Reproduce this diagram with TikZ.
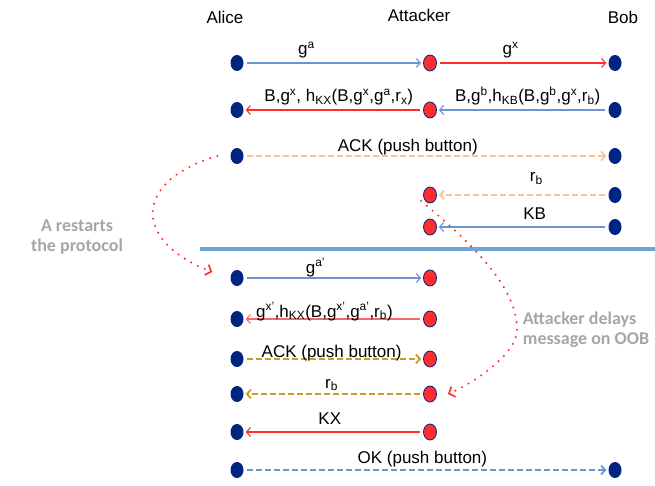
\documentclass[tikz,border=0pt]{standalone}
\usepackage{fontspec}
\setmainfont{Liberation Sans}
\newfontfamily\notefont{Carlito}
\usepackage{tikz}
\usetikzlibrary{arrows.meta,shapes.geometric}

\definecolor{dotnavy}{RGB}{0,36,130}
\definecolor{atkred}{RGB}{255,45,45}
\definecolor{softred}{RGB}{245,105,105}
\definecolor{msgblue}{RGB}{105,150,210}
\definecolor{sepblue}{RGB}{110,165,215}
\definecolor{paleorange}{RGB}{247,195,160}
\definecolor{mustard}{RGB}{200,158,40}
\definecolor{notegray}{RGB}{166,166,166}

\begin{document}
\begin{tikzpicture}[x=1pt,y=1pt,
    font=\fontsize{17}{20}\selectfont,
    host/.style={ellipse,fill=dotnavy,minimum width=13pt,minimum height=16pt,inner sep=0pt},
    atk/.style={ellipse,draw=dotnavy,line width=0.8pt,fill=atkred,minimum width=13pt,minimum height=16pt,inner sep=0pt},
    msg/.style={line width=1.1pt,-{Straight Barb[length=4pt,width=9pt]},shorten <=3pt,shorten >=2pt},
    oob/.style={msg,line width=1.8pt,dash pattern=on 6pt off 3pt},
    restart/.style={atkred,line width=2.3pt,line cap=round,dash pattern=on 0pt off 7.5pt,
        -{Straight Barb[length=5pt,width=11pt,line width=1.6pt]}},
    lbl/.style={anchor=base,text=black,yshift=#1},
    lbl/.default=7pt,
    note/.style={text=notegray,font=\notefont\bfseries\fontsize{18}{20}\selectfont}]
    \useasboundingbox (0,0) rectangle (655,485);

    % Parties
    \node (alice) at (225,468) {Alice};
    \node (attacker) at (419,470) {Attacker};
    \node (bob) at (623,468) {Bob};

    % First run
    \node [host] (a1) at (237,422) {};
    \node [atk]  (x1) at (430,422) {};
    \node [host] (b1) at (615,422) {};

    \node [host] (a2) at (237,375) {};
    \node [atk]  (x2) at (430,375) {};
    \node [host] (b2) at (615,375) {};

    \node [host] (a3) at (237,329) {};
    \node [host] (b3) at (615,329) {};

    \node [atk]  (x4) at (430,290) {};
    \node [host] (b4) at (615,290) {};

    \node [atk]  (x5) at (430,258) {};
    \node [host] (b5) at (615,258) {};

    % Separator
    \draw [sepblue,line width=4pt] (200,236) -- (655,236);

    % Second run
    \node [host] (a6) at (237,207) {};
    \node [atk]  (x6) at (430,207) {};

    \node [host] (a7) at (237,166) {};
    \node [atk]  (x7) at (430,166) {};

    \node [host] (a8) at (237,126) {};
    \node [atk]  (x8) at (430,126) {};

    \node [host] (a9) at (237,91) {};
    \node [atk]  (x9) at (430,91) {};

    \node [host] (a10) at (237,53) {};
    \node [atk]  (x10) at (430,53) {};

    \node [host] (a11) at (237,15) {};
    \node [host] (b11) at (615,15) {};

    % Messages, first run
    \draw [msg,msgblue] (a1) -- node [lbl=8pt,pos=0.35] {g\textsuperscript{a}} (x1);
    \draw [msg,atkred] (x1) -- node [lbl=8pt,pos=0.43] {g\textsuperscript{x}} (b1);
    \draw [msg,atkred] (x2) -- node [lbl=8pt,pos=0.47] {B,g\textsuperscript{x}, h\textsubscript{KX}(B,g\textsuperscript{x},g\textsuperscript{a},r\textsubscript{x})} (a2);
    \draw [msg,msgblue] (b2) -- node [lbl=8pt,pos=0.47] {B,g\textsuperscript{b},h\textsubscript{KB}(B,g\textsuperscript{b},g\textsuperscript{x},r\textsubscript{b})} (x2);
    \draw [oob,paleorange] (a3) -- node [lbl=4pt,pos=0.45] {ACK (push button)} (b3);
    \draw [oob,paleorange] (b4) -- node [lbl=13pt,pos=0.42] {r\textsubscript{b}} (x4);
    \draw [msg,msgblue] (b5) -- node [lbl,pos=0.43] {KB} (x5);

    % Messages, second run
    \draw [msg,msgblue] (a6) -- node [lbl=5pt,pos=0.40] {g\textsuperscript{a'}} (x6);
    \draw [msg,softred] (x7) -- node [lbl=2pt,pos=0.55] {g\textsuperscript{x'},h\textsubscript{KX}(B,g\textsuperscript{x'},g\textsuperscript{a'},r\textsubscript{b})} (a7);
    \draw [oob,mustard] (a8) -- node [lbl=2pt,pos=0.49] {ACK (push button)} (x8);
    \draw [oob,mustard] (x9) -- node [lbl=6pt,pos=0.51] {r\textsubscript{b}} (a9);
    \draw [msg,atkred] (x10) -- node [lbl=8pt,pos=0.52] {KX} (a10);
    \draw [oob,msgblue] (a11) -- node [lbl,pos=0.49] {OK (push button)} (b11);

    % A restarts
    \coordinate (restartA) at ([xshift=-13pt]a3.west);
    \coordinate (restartB) at ([xshift=-18pt,yshift=6pt]a6.west);
    \draw [restart] (restartA) .. controls (135,305) and (130,245) .. (restartB);
    \node [note,align=center] (restartnote) at (77,248) {A restarts\\the protocol};

    % Attacker delays the OOB message
    \coordinate (delayA) at ([xshift=-4pt]x4.south west);
    \coordinate (delayB) at ([xshift=11pt]x9.east);
    \draw [restart] (delayA) .. controls (480,235) and (517,195) .. (517,155)
        .. controls (517,130) and (470,100) .. (delayB);
    \node [note,align=left] (delaynote) at (586,155) {Attacker delays\\message on OOB};
\end{tikzpicture}
\end{document}
